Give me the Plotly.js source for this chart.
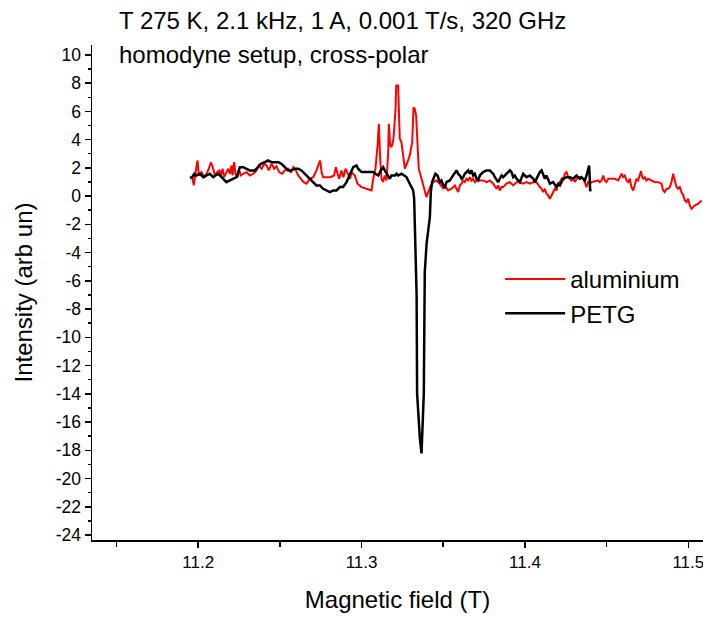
<!DOCTYPE html>
<html>
<head>
<meta charset="utf-8">
<script src="https://cdn.plot.ly/plotly-3.0.1.min.js"></script>
<style>html,body{margin:0;padding:0;background:#fff;}#chart{width:703px;height:617px;}</style>
</head>
<body>
<div id="chart"></div>
<script>
// aluminium (red)
const aluField = [
11.1963,11.1973,11.1984,11.1996,11.2004,11.2020,11.2037,11.2051,11.2065,11.2078,
11.2092,11.2102,11.2116,11.2129,11.2139,11.2149,11.2159,11.2173,11.2184,11.2194,
11.2204,11.2210,11.2220,11.2228,11.2241,11.2251,11.2261,11.2275,11.2296,11.2316,
11.2337,11.2357,11.2371,11.2388,11.2404,11.2418,11.2432,11.2449,11.2465,11.2479,
11.2496,11.2514,11.2530,11.2551,11.2567,11.2583,11.2598,11.2612,11.2628,11.2645,
11.2663,11.2683,11.2704,11.2724,11.2738,11.2747,11.2755,11.2765,11.2785,11.2810,
11.2832,11.2843,11.2853,11.2863,11.2877,11.2889,11.2902,11.2918,11.2930,11.2938,
11.2959,11.2975,11.3000,11.3030,11.3061,11.3071,11.3085,11.3098,11.3106,11.3114,
11.3122,11.3132,11.3142,11.3153,11.3163,11.3167,11.3175,11.3183,11.3194,11.3200,
11.3208,11.3212,11.3224,11.3228,11.3234,11.3244,11.3255,11.3265,11.3281,11.3295,
11.3310,11.3318,11.3326,11.3334,11.3342,11.3350,11.3367,11.3383,11.3397,11.3408,
11.3424,11.3438,11.3459,11.3479,11.3500,11.3510,
11.3530,11.3551,11.3571,11.3581,11.3591,11.3602,11.3612,11.3622,11.3632,11.3642,
11.3653,11.3663,11.3673,11.3683,11.3693,11.3704,11.3714,11.3724,11.3744,11.3765,
11.3785,11.3806,11.3816,11.3826,11.3836,11.3846,11.3857,11.3867,11.3887,11.3908,
11.3928,11.3949,11.3969,11.3989,11.4010,11.4030,11.4051,11.4071,11.4091,11.4102,
11.4112,11.4122,11.4132,11.4142,11.4153,11.4163,11.4173,11.4183,11.4193,11.4204,
11.4214,11.4224,11.4234,11.4244,11.4255,11.4265,11.4275,11.4285,11.4295,11.4306,
11.4316,11.4336,11.4357,11.4367,11.4377,11.4387,11.4397,11.4408,
11.4448,11.4458,11.4469,11.4479,11.4489,11.4499,11.4510,11.4530,11.4550,11.4571,
11.4581,11.4591,11.4601,11.4612,11.4622,11.4632,11.4642,11.4652,11.4663,11.4673,
11.4683,11.4693,11.4703,11.4710,11.4718,11.4724,11.4734,11.4744,11.4754,11.4775,
11.4795,11.4816,11.4836,11.4846,11.4856,11.4867,11.4877,11.4887,11.4897,11.4907,
11.4918,11.4928,11.4938,11.4948,11.4958,11.4969,11.4979,11.4989,11.4999,11.5009,
11.5020,11.5030,11.5040,11.5061,11.5081
];
const aluIntensity = [
1.34,0.76,1.70,2.52,1.46,1.70,1.34,1.58,1.94,2.40,
1.94,1.46,1.70,1.82,1.46,1.94,1.34,1.70,1.94,1.58,
2.17,1.46,2.40,1.58,1.34,1.82,1.46,1.58,1.70,1.46,
1.58,1.82,2.17,1.94,2.29,2.17,1.82,2.29,1.94,2.12,
1.70,1.58,1.82,1.94,1.70,2.05,1.82,1.46,1.23,0.99,
0.88,1.23,1.34,1.82,2.29,2.52,1.70,1.34,1.34,1.34,
1.46,2.05,1.58,1.23,1.82,1.34,1.94,1.46,1.23,1.70,
1.46,0.88,0.64,0.52,0.40,1.23,1.94,3.59,5.12,2.64,
1.23,0.99,1.46,1.11,3.11,5.12,3.59,3.47,3.94,4.77,
6.18,7.83,7.83,6.18,4.06,3.82,2.76,1.94,2.40,2.88,
3.82,6.29,6.18,5.71,3.82,1.94,1.23,0.52,-0.07,0.28,
0.76,0.99,1.11,0.88,0.52,0.76,
0.40,0.52,0.76,0.52,0.29,0.76,0.88,1.11,0.99,1.23,
1.11,1.34,1.11,1.23,0.99,1.11,1.23,1.11,1.11,0.99,
1.11,0.88,0.64,0.52,0.76,0.40,0.64,0.64,0.88,0.99,
0.76,0.99,0.99,0.88,0.99,0.88,0.99,0.99,0.64,0.52,
0.29,0.52,0.17,0.05,-0.19,0.05,0.40,0.52,0.40,0.88,
0.99,1.23,1.11,1.58,1.70,1.34,1.23,1.11,1.23,0.99,
1.23,1.34,1.23,0.99,0.64,0.99,0.88,0.99,
1.11,0.99,1.11,1.46,1.11,0.99,1.23,1.23,1.23,1.11,
1.34,1.58,1.34,1.46,1.11,0.99,1.23,0.64,0.40,0.88,
1.23,1.11,1.46,1.76,1.34,1.23,1.34,1.11,1.23,1.11,
0.99,0.99,0.88,0.40,0.29,0.52,0.52,0.64,0.99,1.58,
1.11,0.64,0.52,0.64,0.29,0.05,-0.31,-0.42,-0.19,-0.66,
-0.90,-0.78,-0.66,-0.54,-0.31
];
// PETG (black)
const petgField = [
11.1949,11.1963,11.1976,11.1990,11.2010,11.2031,11.2051,11.2071,11.2092,11.2112,
11.2122,11.2133,11.2153,11.2173,11.2194,11.2214,11.2235,11.2245,11.2255,11.2275,
11.2296,11.2316,11.2347,11.2367,11.2384,11.2408,11.2428,11.2449,11.2469,11.2490,
11.2510,11.2530,11.2551,11.2571,11.2592,11.2612,11.2632,11.2653,11.2673,11.2694,
11.2714,11.2724,11.2745,11.2765,11.2785,11.2806,11.2826,11.2847,11.2867,11.2887,
11.2908,11.2918,11.2928,11.2938,11.2949,
11.2969,11.2979,11.3000,11.3040,11.3071,11.3085,11.3102,11.3118,11.3132,11.3142,
11.3153,11.3163,11.3173,11.3183,11.3194,11.3204,11.3214,11.3224,11.3244,11.3261,
11.3275,11.3285,11.3295,11.3306,11.3316,11.3322,
11.3330,11.3337,11.3340,11.3346,11.3357,11.3367,11.3371,11.3373,11.3381,11.3387,
11.3398,11.3418,
11.3424,11.3432,11.3444,11.3452,11.3465,11.3473,11.3479,11.3489,11.3500,11.3510,
11.3520,11.3540,11.3561,11.3571,11.3581,11.3591,11.3602,11.3612,11.3622,11.3632,
11.3642,11.3653,11.3663,11.3673,11.3683,11.3693,11.3704,11.3714,11.3724,11.3744,
11.3765,11.3785,11.3795,11.3806,11.3816,11.3826,11.3836,11.3846,11.3857,11.3867,
11.3887,11.3897,11.3908,11.3918,11.3928,11.3938,11.3949,11.3969,11.3979,11.3989,
11.3999,11.4010,11.4030,11.4051,11.4061,11.4071,11.4081,11.4091,11.4102,11.4112,
11.4122,11.4132,11.4142,11.4153,11.4173,11.4183,11.4193,11.4204,11.4214,11.4224,
11.4234,11.4255,11.4275,11.4295,11.4316,11.4326,11.4336,11.4346,11.4357,11.4367,
11.4377,11.4387,11.4393,11.4397,11.4399,11.4401,11.4403
];
const petgIntensity = [
1.30,1.34,1.58,1.46,1.58,1.34,1.46,1.58,1.34,1.46,
1.58,1.46,1.23,0.99,1.11,1.23,1.34,1.70,2.05,2.05,
1.94,1.82,1.82,2.05,2.29,2.40,2.52,2.40,2.40,2.40,
2.29,2.05,1.82,1.82,1.94,1.94,1.82,1.58,1.34,1.11,
0.88,0.76,0.76,0.52,0.40,0.29,0.40,0.40,0.64,0.64,
0.99,1.23,1.46,1.82,2.05,
2.17,1.94,1.70,1.70,1.70,1.58,1.46,1.82,2.05,1.82,
1.58,1.35,1.23,1.46,1.46,1.46,1.58,1.46,1.58,1.46,
1.35,1.11,0.88,0.64,0.40,-0.18,
-4.90,-7.02,-13.97,-15.39,-17.16,-18.22,-17.04,-15.39,-13.97,-5.37,
-3.37,-1.50,
0.30,0.99,1.35,1.58,1.46,1.23,0.99,1.11,0.76,0.64,
0.99,1.11,1.46,1.70,1.82,1.58,1.46,1.23,1.34,1.58,
1.70,1.82,1.58,1.82,1.46,1.58,1.23,1.11,1.46,1.70,
1.82,1.82,1.70,1.58,1.34,1.11,0.99,1.23,1.46,1.34,
1.58,1.70,1.82,1.70,1.34,1.46,1.23,0.99,1.34,1.58,
1.46,1.34,1.46,1.23,0.99,1.23,1.46,1.70,1.82,1.58,
1.23,1.46,1.11,0.88,0.99,0.76,0.64,0.88,0.76,0.99,
1.23,1.34,1.34,1.23,1.46,1.34,1.23,1.34,1.23,1.11,
1.46,1.94,2.17,1.20,0.35,0.90,0.50
];
const seriesNames = ["aluminium", "PETG"];
const titleLines = ["T 275 K, 2.1 kHz, 1 A, 0.001 T/s, 320 GHz", "homodyne setup, cross-polar"];
const xTickVals = [11.2, 11.3, 11.4, 11.5];
const yTickVals = [10,8,6,4,2,0,-2,-4,-6,-8,-10,-12,-14,-16,-18,-20,-22,-24];

const FONT = "Arial, 'Liberation Sans', sans-serif";
const traces = [
  {x: aluField, y: aluIntensity, type: "scatter", mode: "lines", name: seriesNames[0],
   line: {color: "#ff0000", width: 2}},
  {x: petgField, y: petgIntensity, type: "scatter", mode: "lines", name: seriesNames[1],
   line: {color: "#000000", width: 2.5}}
];
const layout = {
  width: 703, height: 617,
  margin: {l: 92, r: 0, t: 45, b: 77},
  paper_bgcolor: "#fff", plot_bgcolor: "#fff",
  font: {family: FONT, color: "#000", size: 17},
  showlegend: true,
  legend: {x: 0.668, y: 0.572, xanchor: "left", yanchor: "top", bgcolor: "rgba(0,0,0,0)",
           font: {family: FONT, size: 24, color: "#000"}, itemwidth: 60, tracegroupgap: 0},
  xaxis: {
    range: [11.135, 11.509], showgrid: false, zeroline: false,
    showline: true, linecolor: "#000", linewidth: 1.5, mirror: false,
    ticks: "outside", ticklen: 6, tickwidth: 1.5, tickcolor: "#000",
    tickvals: xTickVals, ticktext: xTickVals.map(v => v.toFixed(1)),
    ticklabeloverflow: "allow",
    minor: {dtick: 0.05, tick0: 11.15, ticks: "outside", ticklen: 5, tickwidth: 1.5, tickcolor: "#000"},
    tickfont: {family: FONT, size: 17, color: "#000"},
    title: {text: "Magnetic field (T)", font: {family: FONT, size: 24, color: "#000"}, standoff: 20}
  },
  yaxis: {
    range: [-24.35, 10.7], showgrid: false, zeroline: false,
    showline: true, linecolor: "#000", linewidth: 1.5,
    ticks: "outside", ticklen: 6, tickwidth: 1.5, tickcolor: "#000",
    tickvals: yTickVals, ticktext: yTickVals.map(String),
    minor: {dtick: 1, tick0: 1, ticks: "outside", ticklen: 3, tickwidth: 1.5, tickcolor: "#000"},
    tickfont: {family: FONT, size: 17.5, color: "#000"},
    title: {text: "Intensity (arb un)", font: {family: FONT, size: 24, color: "#000"}, standoff: 16}
  },
  annotations: [
    {text: titleLines[0], xref: "paper", yref: "paper", x: 0.041, y: 1.0505, xanchor: "left", yanchor: "middle",
     showarrow: false, font: {family: FONT, size: 24, color: "#000"}},
    {text: titleLines[1], xref: "paper", yref: "paper", x: 0.041, y: 0.98, xanchor: "left", yanchor: "middle",
     showarrow: false, font: {family: FONT, size: 24, color: "#000"}}
  ]
};
Plotly.newPlot("chart", traces, layout, {displayModeBar: false, staticPlot: true});
</script>
</body>
</html>
